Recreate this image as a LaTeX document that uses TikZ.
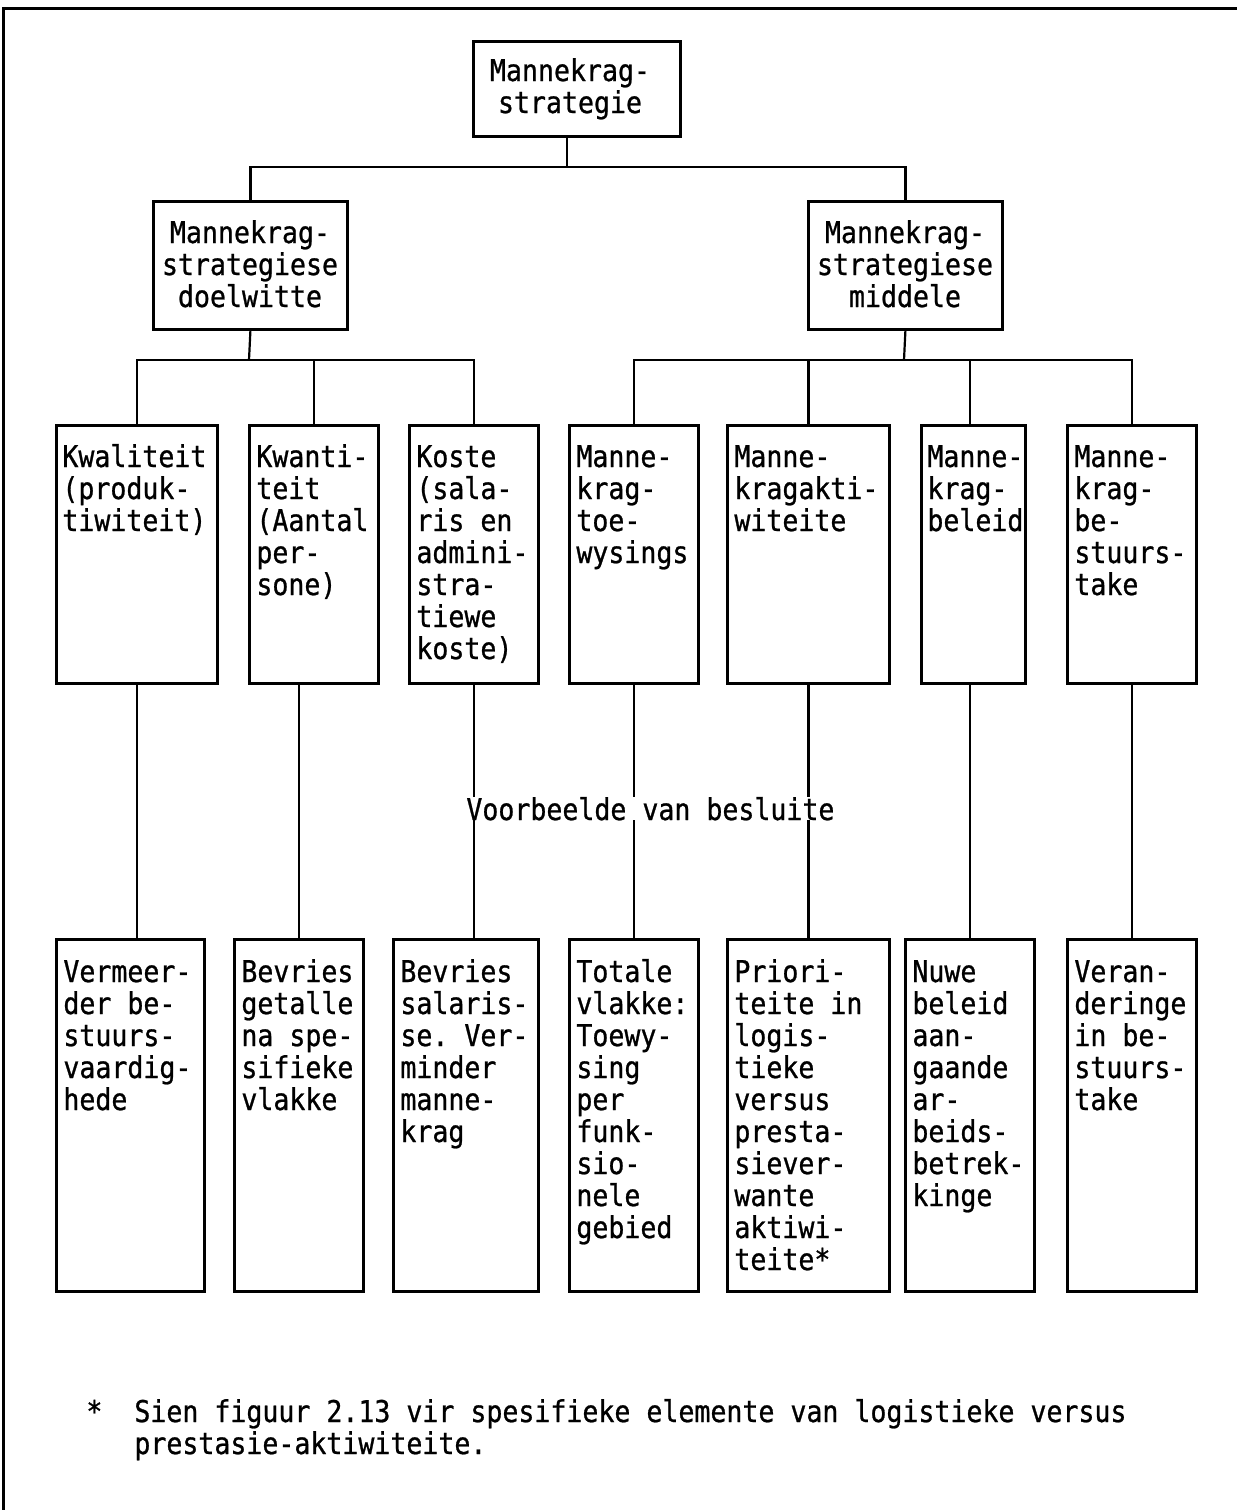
\documentclass[tikz,border=0pt]{standalone}
\usepackage{fontspec}
\newfontfamily\mono[FakeStretch=0.886,FakeBold=0.8]{DejaVu Sans Mono}
\frenchspacing
% text blocks: first line's baseline is the node's base
\newcommand\llines[1]{\parbox[t]{120pt}{\raggedright #1}}
\newcommand\clines[1]{\parbox[t]{120pt}{\centering #1}}
\begin{document}
\begin{tikzpicture}[x=0.5pt, y=-0.5pt,
  frame/.style={line width=1.5pt},
  box/.style={draw, line width=1.4pt, inner sep=0pt, anchor=north west},
  txt/.style={font=\mono\fontsize{15}{16}\selectfont, inner sep=0pt, anchor=base west},
  ctxt/.style={font=\mono\fontsize{15}{16}\selectfont, inner sep=0pt, anchor=base},
  link/.style={line width=1.1pt}]
\useasboundingbox (0,0) rectangle (1237,1510);

% outer frame (top and left edges)
\draw[frame] (3,1510) -- (3,8) -- (1237,8);

% --- level 0 ---
\node[box, minimum width=103.5pt, minimum height=47.5pt] (top) at (472,40) {};
\node[ctxt] (top-t) at (570,81) {\clines{Mannekrag-\\strategie}};

% --- level 1 ---
\node[box, minimum width=97pt, minimum height=64pt] (midL) at (152,200) {};
\node[ctxt] (midL-t) at (250,243) {\clines{Mannekrag-\\strategiese\\doelwitte}};
\node[box, minimum width=97pt, minimum height=64pt] (midR) at (807,200) {};
\node[ctxt] (midR-t) at (905,243) {\clines{Mannekrag-\\strategiese\\middele}};

% --- level 2 ---
\node[box, minimum width=80.5pt, minimum height=129pt] (kwal) at (55,424) {};
\node[txt] (kwal-t) at (62,467) {\llines{Kwaliteit\\(produk-\\tiwiteit)}};
\node[box, minimum width=64.5pt, minimum height=129pt] (kwan) at (248,424) {};
\node[txt] (kwan-t) at (256,467) {\llines{Kwanti-\\teit\\(Aantal\\per-\\sone)}};
\node[box, minimum width=64.5pt, minimum height=129pt] (kost) at (408,424) {};
\node[txt] (kost-t) at (416,467) {\llines{Koste\\(sala-\\ris en\\admini-\\stra-\\tiewe\\koste)}};
\node[box, minimum width=64.5pt, minimum height=129pt] (toew) at (568,424) {};
\node[txt] (toew-t) at (576,467) {\llines{Manne-\\krag-\\toe-\\wysings}};
\node[box, minimum width=81pt, minimum height=129pt] (akt) at (726,424) {};
\node[txt] (akt-t) at (734,467) {\llines{Manne-\\kragakti-\\witeite}};
\node[box, minimum width=52pt, minimum height=129pt] (bel) at (920,424) {};
\node[txt] (bel-t) at (927,467) {\llines{Manne-\\krag-\\beleid}};
\node[box, minimum width=64.5pt, minimum height=129pt] (best) at (1066,424) {};
\node[txt] (best-t) at (1074,467) {\llines{Manne-\\krag-\\be-\\stuurs-\\take}};

% --- level 3: example decisions ---
\node[box, minimum width=74pt, minimum height=176pt] (verm) at (55,938) {};
\node[txt] (verm-t) at (63,982) {\llines{Vermeer-\\der be-\\stuurs-\\vaardig-\\hede}};
\node[box, minimum width=64.5pt, minimum height=176pt] (getal) at (233,938) {};
\node[txt] (getal-t) at (241,982) {\llines{Bevries\\getalle\\na spe-\\sifieke\\vlakke}};
\node[box, minimum width=72.5pt, minimum height=176pt] (sal) at (392,938) {};
\node[txt] (sal-t) at (400,982) {\llines{Bevries\\salaris-\\se. Ver-\\minder\\manne-\\krag}};
\node[box, minimum width=64.5pt, minimum height=176pt] (tot) at (568,938) {};
\node[txt] (tot-t) at (576,982) {\llines{Totale\\vlakke:\\Toewy-\\sing\\per\\funk-\\sio-\\nele\\gebied}};
\node[box, minimum width=81pt, minimum height=176pt] (prio) at (726,938) {};
\node[txt] (prio-t) at (734,982) {\llines{Priori-\\teite in\\logis-\\tieke\\versus\\presta-\\siever-\\wante\\aktiwi-\\teite*}};
\node[box, minimum width=64.5pt, minimum height=176pt] (nuwe) at (904,938) {};
\node[txt] (nuwe-t) at (912,982) {\llines{Nuwe\\beleid\\aan-\\gaande\\ar-\\beids-\\betrek-\\kinge}};
\node[box, minimum width=64.5pt, minimum height=176pt] (veran) at (1066,938) {};
\node[txt] (veran-t) at (1074,982) {\llines{Veran-\\deringe\\in be-\\stuurs-\\take}};

% --- connectors ---
\coordinate (bus1) at (567,167);
\coordinate (bus2L) at (249,360);
\coordinate (bus2R) at (904,360);

\draw[link] (top.south -| bus1) -- (bus1);
\draw[link] (midL.north) |- (bus1) -| (midR.north);

\draw[link] (midL.south) -- (bus2L);
\draw[link] (kwal.north) |- (bus2L) -| (kost.north);
\draw[link] (kwan.north) -- (kwan.north |- bus2L);

\draw[link] (midR.south) -- (bus2R);
\draw[link] (toew.north) |- (bus2R) -| (best.north);
\draw[link] (akt.north) -- (akt.north |- bus2R);
\draw[link] (bel.north -| nuwe.north) -- (nuwe.north |- bus2R);

\draw[link] (kwal.south) -- (kwal.south |- verm.north);
\draw[link] (getal.north) -- (getal.north |- kwan.south);
\draw[link] (kost.south) -- (kost.south |- sal.north);
\draw[link] (toew.south) -- (toew.south |- tot.north);
\draw[link] (akt.south) -- (akt.south |- prio.north);
\draw[link] (nuwe.north) -- (nuwe.north |- bel.south);
\draw[link] (best.south) -- (best.south |- veran.north);

% caption across the decision links
\node[txt, fill=white] (caption) at (466,820) {Voorbeelde van besluite};

% footnote
\node[txt] (star) at (86,1422) {*};
\node[txt] (note) at (134,1422) {\parbox[t]{560pt}{\raggedright Sien figuur 2.13 vir spesifieke elemente van logistieke versus\\prestasie-aktiwiteite.}};
\end{tikzpicture}
\end{document}
